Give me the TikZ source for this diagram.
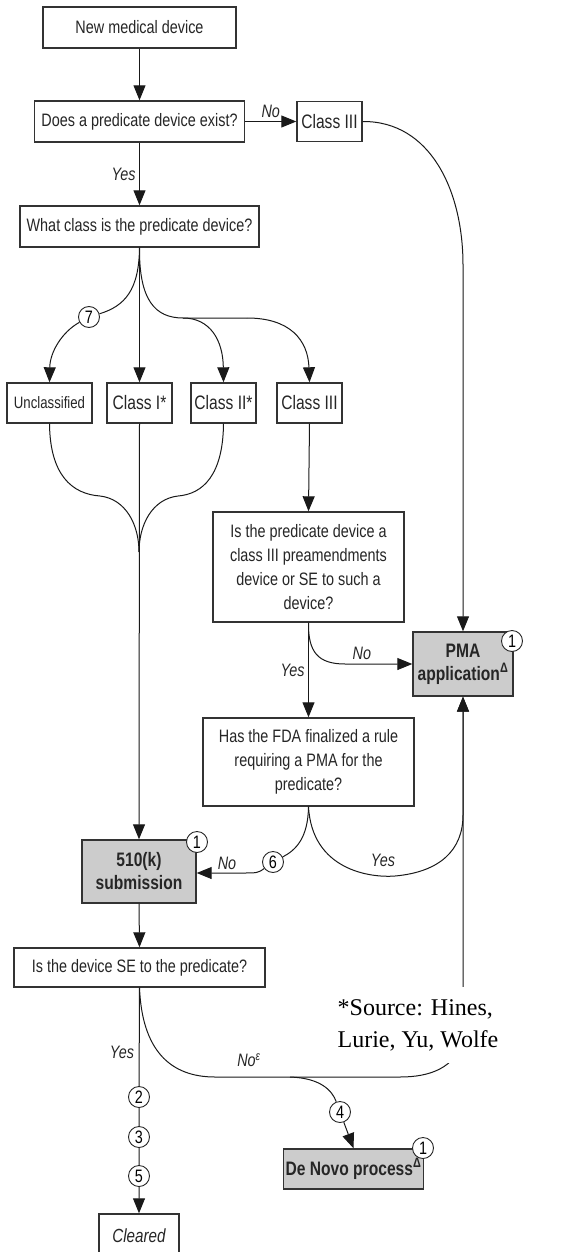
\documentclass[tikz,border=0pt]{standalone}
\usepackage{fontspec}
\setmainfont{Liberation Sans}[FakeStretch=0.8]
\newfontfamily\srcfont{Liberation Serif}
\usetikzlibrary{arrows.meta}

\tikzset{
	box/.style = {draw = black!80, line width = 1.4pt, fill = white, inner sep = 2pt, align = center, text = black!85, font = \fontsize{18}{24}\selectfont},
	classbox/.style = {box, minimum width = 65pt, minimum height = 40pt, font = \fontsize{19.5}{20}\selectfont},
	greybox/.style = {box, fill = black!20, font = \fontsize{19.5}{23}\selectfont\bfseries},
	num/.style = {draw = black!85, circle, line width = 0.9pt, fill = white, inner sep = 0pt, minimum size = 21pt, font = \fontsize{18}{18}\selectfont},
	lbl/.style = {text = black!85, font = \fontsize{18}{18}\selectfont\itshape},
	src/.style = {fill = white, align = left, inner xsep = 4pt, inner ysep = 12pt, font = \srcfont\fontsize{24}{32}\selectfont}
}

\begin{document}
\begin{tikzpicture}[> = {Triangle[length = 15pt, width = 12pt]}, x = 1pt, y = -1pt, line width = 1pt, draw = black!90]

	\useasboundingbox (0, 0) rectangle (583, 1252);

	% Boxes
	
	\node [box, minimum width = 193pt, minimum height = 41pt] (new) at (139.5, 27.5) {New medical device};
	\node [box, minimum width = 210pt, minimum height = 41pt] (exist) at (139.5, 121.5) {Does a predicate device exist?};
	\node [classbox] (cthreea) at (329.5, 121.5) {Class III};
	\node [box, minimum width = 239pt, minimum height = 41pt] (whatclass) at (139.5, 226.5) {What class is the predicate device?};
	
	\node [classbox, minimum width = 85pt, font = \fontsize{16.5}{16}\selectfont] (uncl) at (49.5, 403) {Unclassified};
	\node [classbox] (cone) at (139.5, 403) {Class I*};
	\node [classbox] (ctwo) at (223.5, 403) {Class II*};
	\node [classbox] (cthree) at (309.5, 403) {Class III};
	
	\node [box, minimum width = 191pt, minimum height = 110pt] (preamend) at (308.5, 567) {Is the predicate device a\\class III preamendments\\device or SE to such a\\device?};
	\node [greybox, minimum width = 100pt, minimum height = 64pt] (pma) at (463, 664) {PMA\\application\textsuperscript{Δ}};
	\node [box, minimum width = 211pt, minimum height = 88pt] (final) at (308.5, 762) {Has the FDA finalized a rule\\requiring a PMA for the\\predicate?};
	
	\node [greybox, minimum width = 114pt, minimum height = 63pt] (sub510) at (139, 871.5) {510(k)\\submission};
	\node [box, minimum width = 251pt, minimum height = 39pt] (se) at (139.5, 967.5) {Is the device SE to the predicate?};
	\node [greybox, minimum width = 139pt, minimum height = 40pt] (denovo) at (353.5, 1169) {De Novo process\textsuperscript{Δ}};
	\node [box, minimum width = 80pt, minimum height = 44pt, font = \fontsize{19}{19}\selectfont\itshape] (cleared) at (139, 1236) {Cleared};
	
	% Numbered circles
	
	\node [num] (seven) at (89, 317) {7};
	\node [num] (six) at (273, 862) {6};
	\node [num] (four) at (340, 1112) {4};
	\node [num] (two) at (139, 1097) {2};
	\node [num] (three) at (139, 1137) {3};
	\node [num] (five) at (139, 1176) {5};

	% Connectors
	
	\draw [->] (new) -- (exist);
	\draw [->] (exist) -- node [lbl, above] {No} (cthreea);
	\draw [->] (exist) -- node [lbl, left] {Yes} (whatclass);
	\draw [->] (cthreea.east) .. controls (430, 121) and (463, 190) .. (463, 265) -- (pma.north);
	
	\coordinate (fork) at (183, 318);
	\coordinate (bend) at (247, 318);
	\draw (whatclass.south) .. controls (139, 290) and (125, 306) .. (seven);
	\draw [->] (seven) .. controls (62, 332) and (50, 352) .. (uncl.north);
	\draw [->] (whatclass.south) -- (cone.north);
	\draw (whatclass.south) .. controls (139, 300) and (155, 318) .. (fork) -- (bend);
	\draw [->] (fork) .. controls (210, 318) and (223, 340) .. (ctwo.north);
	\draw [->] (bend) .. controls (290, 318) and (308, 340) .. (cthree.north);
	
	\coordinate (join) at (139, 552);
	\draw (uncl.south) .. controls (50, 475) and (72, 494) .. (100, 496) .. controls (126, 499) and (139, 525) .. (join);
	\draw (ctwo.south) .. controls (223, 475) and (203, 494) .. (178, 496) .. controls (152, 499) and (139, 525) .. (join);
	\draw [->] (cone.south) -- (sub510.north);
	
	\draw [->] (cthree.south) -- (preamend.north);
	\draw [->] (preamend.south) .. controls (308, 652) and (318, 664) .. (345, 664) -- node [lbl, above, pos = 0.25] {No} (pma.west);
	\draw [->] (preamend.south) -- node [lbl, left] {Yes} (final.north);
	
	\draw (final.south) .. controls (308, 838) and (296, 850) .. (six);
	\draw [->] (six) .. controls (258, 873) .. (240, 873) -- node [lbl, above, pos = 0.3] {No} (sub510.east |- 0, 873);
	\draw [->] (final.south) .. controls (312, 870) and (370, 878) .. (395, 876) .. controls (440, 872) and (463, 850) .. (463, 815) -- (pma.south);
	\node [lbl] (yesfinal) at (383, 860) {Yes};
	
	\draw [->] (sub510.south) -- (se.north);
	\draw [->] (se.south) -- (two) -- (three) -- (five) -- (cleared.north);
	\node [lbl] (yesse) at (122, 1052) {Yes};
	
	\coordinate (split) at (290, 1077);
	\draw [->] (se.south) .. controls (142, 1050) and (170, 1077) .. (215, 1077) -- (400, 1077) .. controls (430, 1077) and (455, 1068) .. (463, 1040) -- (pma.south);
	\node [lbl] (nose) at (249, 1060) {No\textsuperscript{ε}};
	\draw (split) .. controls (320, 1078) and (332, 1090) .. (four);
	\draw [->] (four) -- (denovo.north);
	
	% Corner markers
	
	\node [num] (onepma) at (512, 641) {1};
	\node [num] (onesub) at (197, 842) {1};
	\node [num] (onenovo) at (423, 1148) {1};
	
	% Source note
	
	\node [src] (source) at (418, 1025) {*Source: Hines,\\Lurie, Yu, Wolfe};

\end{tikzpicture}
\end{document}
